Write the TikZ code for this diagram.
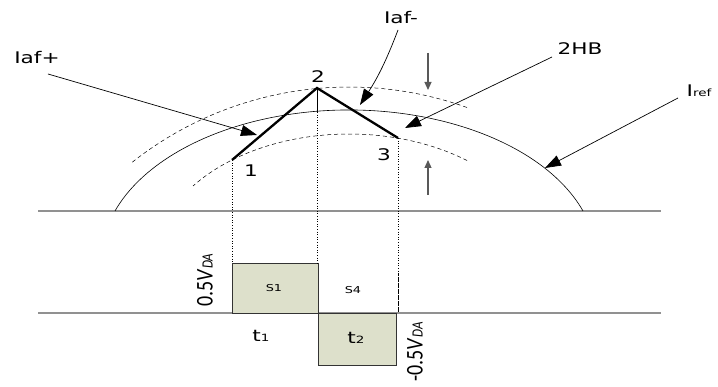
\documentclass[tikz,border=0pt]{standalone}
\usepackage{fontspec}
\setmainfont{DejaVu Sans}
\newfontfamily\narrowfont{Carlito}
\usepackage{graphicx}
\usetikzlibrary{arrows.meta}
\definecolor{BoxFill}{RGB}{221,224,203}
\definecolor{AxisGray}{RGB}{145,145,145}
\newcommand{\wide}[1]{\scalebox{1.35}[1]{#1}}
\newcommand{\upvolt}[1]{\scalebox{1.2}[1]{\rotatebox{90}{\narrowfont\fontsize{20}{22}\selectfont #1\textit{V}{\fontsize{13}{14}\selectfont\textit{DA}}}}}
\tikzset{
  lbl/.style={inner sep=0pt, font=\fontsize{16}{18}\selectfont},
  small/.style={inner sep=0pt, font=\fontsize{9.5}{11}\selectfont},
  callout/.style={-{Triangle[length=16pt,width=11pt]}, line width=0.7pt},
  band/.style={-{Triangle[length=8pt,width=7pt]}, line width=1.2pt, black!65},
  drop/.style={dotted, line width=0.6pt},
}

\begin{document}
\begin{tikzpicture}[x=1pt,y=1pt]
\useasboundingbox (0,0) rectangle (718,387);
% axes
\draw[AxisGray, line width=1.6pt] (38,176) -- (661,176);
\draw[AxisGray, line width=1.6pt] (38,74) -- (661,74);
% reference current and hysteresis band
\draw[line width=0.6pt] (349,127) ++(19.07:247.6 and 150)
  arc[start angle=19.07, end angle=160.93, x radius=247.6, y radius=150];
\draw[dashed, line width=0.5pt, dash pattern=on 4pt off 3pt] (349,-50) ++(70.3:350)
  arc[start angle=70.3, end angle=128.3, radius=350];
\draw[dashed, line width=0.5pt, dash pattern=on 4pt off 3pt] (349,123) ++(52.76:195 and 130)
  arc[start angle=52.76, end angle=143.13, x radius=195, y radius=130];
% actual current
\coordinate (p1) at (232,227);
\coordinate (p2) at (317,299);
\coordinate (p3) at (398,249);
\draw[line width=2.3pt, line join=miter] (p1) -- (p2) -- (p3);
\node[lbl] (n1) at (251,216) {\wide{1}};
\node[lbl] (n2) at (318,310) {\wide{2}};
\node[lbl] (n3) at (384,232) {\wide{3}};
% switching pulses
\draw[fill=BoxFill, draw=black!80, line width=0.8pt] (232,74) rectangle (318,124);
\draw[fill=BoxFill, draw=black!80, line width=0.8pt] (318,74) rectangle (396,22);
\draw[drop] (p1) -- (232,124);
\draw[line width=0.5pt] (p2) -- (317,275);
\draw[drop] (317,275) -- (317,124);
\draw[drop] (p3) -- (398,114);
\draw[line width=0.6pt, dash pattern=on 0.6pt off 0.6pt] (398,114) -- (398,75);
\node[small] (s1) at (274,99) {\wide{S1}};
\node[small] (s4) at (353,97) {\wide{S4}};
\node[lbl] (t1) at (261,51) {\wide{t{\fontsize{10}{12}\selectfont 1}}};
\node[lbl] (t2) at (356,49) {\wide{t{\fontsize{10}{12}\selectfont 2}}};
\node[inner sep=0pt] (vp) at (205,107) {\upvolt{0.5}};
\node[inner sep=0pt] (vm) at (415,35) {\upvolt{-0.5}};
% labels and callouts
\node[lbl] (iafp) at (37,329) {\wide{Iaf+}};
\node[lbl] (iafm) at (401,369) {\wide{Iaf-}};
\node[lbl] (hb) at (580,338) {\wide{2HB}};
\node[lbl] (iref) at (699,296) {\wide{I{\fontsize{10}{12}\selectfont ref}}};
\coordinate (iafp-from) at (48,313);
\coordinate (iafp-to) at (257,252);
\coordinate (iafm-from) at (398,357);
\coordinate (iafm-to) at (360,282);
\coordinate (hb-from) at (552,330);
\coordinate (hb-to) at (405,259);
\coordinate (iref-from) at (678,289);
\coordinate (iref-to) at (545,219);
\draw[callout] (iafp-from) -- (iafp-to);
\draw[callout] (iafm-from) to[bend left=6] (iafm-to);
\draw[callout] (hb-from) -- (hb-to);
\draw[callout] (iref-from) -- (iref-to);
% band width marks
\coordinate (dn-from) at (428,334);
\coordinate (dn-to) at (428,297);
\coordinate (up-from) at (428,192);
\coordinate (up-to) at (428,227);
\draw[band] (dn-from) -- (dn-to);
\draw[band] (up-from) -- (up-to);
\end{tikzpicture}
\end{document}
